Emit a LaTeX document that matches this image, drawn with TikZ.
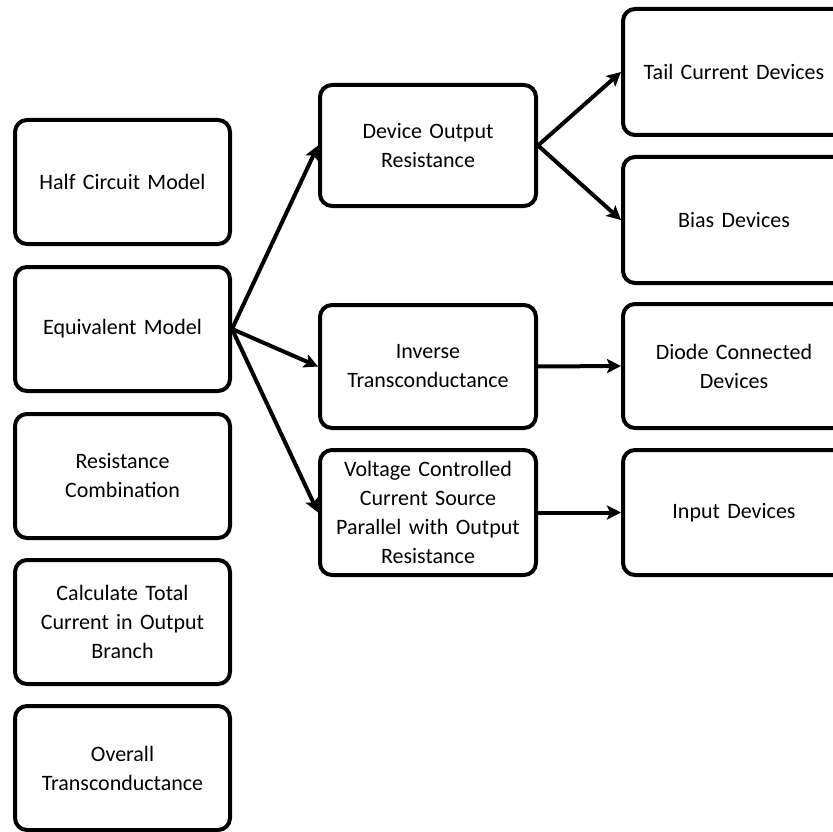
\documentclass[tikz,border=0pt]{standalone}
\usepackage{fontspec}
\setmainfont{Carlito}
\usepackage{tikz}
\usetikzlibrary{arrows.meta}

\begin{document}
\begin{tikzpicture}[x=1pt,y=-1pt,
    stepbox/.style={draw=black,line width=4pt,rounded corners=12pt,fill=white,
        align=center,font=\fontsize{22}{29}\selectfont,inner sep=2pt},
    leftbox/.style={stepbox,minimum width=215pt,minimum height=124pt,text width=205pt},
    midbox/.style={stepbox,minimum width=216pt,minimum height=124pt,text width=206pt},
    rightbox/.style={stepbox,minimum width=222pt,minimum height=126pt,text width=210pt},
    link/.style={line width=4pt,-{Stealth[length=14pt,width=14pt,inset=3pt]}}]
  \useasboundingbox (0,0) rectangle (833,832);
  % left column
  \node[leftbox] (half) at (122.5,182) {Half Circuit Model};
  \node[leftbox] (equiv) at (122.5,329) {Equivalent Model};
  \node[leftbox] (rescomb) at (122.5,476) {Resistance\\Combination};
  \node[leftbox] (calc) at (122.5,622) {Calculate Total\\Current in Output\\Branch};
  \node[leftbox] (overall) at (122.5,768) {Overall\\Transconductance};
  % middle column
  \node[midbox,minimum height=121pt] (devout) at (428,145.5) {Device Output\\Resistance};
  \node[midbox,minimum height=123pt] (invtrans) at (428,366.5) {Inverse\\Transconductance};
  \node[midbox,minimum height=125pt] (vccs) at (428,512.5) {Voltage Controlled\\Current Source\\Parallel with Output\\Resistance};
  % right column (cut off at the page edge)
  \node[rightbox] (tail) at (734,72) {Tail Current Devices};
  \node[rightbox] (bias) at (734,220) {Bias Devices};
  \node[rightbox,minimum height=124pt] (diode) at (734,366) {Diode Connected\\Devices};
  \node[rightbox,minimum height=125pt] (input) at (734,512.5) {Input Devices};
  % connectors
  \draw[link] (equiv.east) -- (devout.west);
  \draw[link] (equiv.east) -- (invtrans.west);
  \draw[link] (equiv.east) -- (vccs.west);
  \draw[link] (devout.east) -- (tail.west);
  \draw[link] (devout.east) -- (bias.west);
  \draw[link] (invtrans.east) -- (diode.west);
  \draw[link] (vccs.east) -- (input.west);
\end{tikzpicture}
\end{document}
